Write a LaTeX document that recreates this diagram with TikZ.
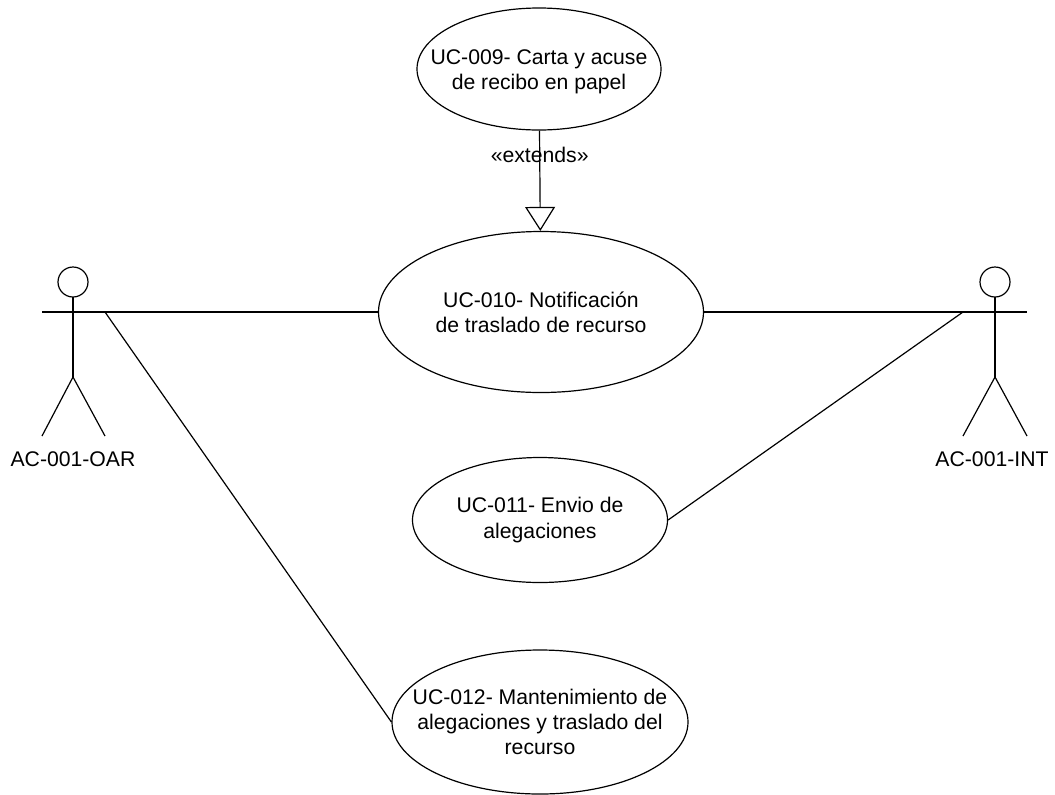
\documentclass[tikz,border=0pt]{standalone}
\usepackage{fontspec}
\setmainfont{Liberation Sans}
\usetikzlibrary{shapes.geometric,arrows.meta}
\tikzset{
	usecase/.style={draw,ellipse,inner sep=0pt},
	uctext/.style={align=center},
	actorlabel/.style={inner sep=0pt}
}
\begin{document}
\begin{tikzpicture}[x=0.5pt,y=-0.5pt,line join=round,line width=0.6pt,font=\fontsize{10.6}{12.7}\selectfont]
		\useasboundingbox (0,0) rectangle (1055,794);
		% casos de uso
		\node[usecase,minimum width=122pt,minimum height=61pt] (uc09) at (539,69) {};
		\node[uctext] (t09) at (539,72) {UC-009- Carta y acuse\\de recibo en papel};
		\node[usecase,minimum width=162.5pt,minimum height=80.5pt] (uc10) at (541,312) {};
		\node[uctext] (t10) at (541,312) {UC-010- Notificación\\de traslado de recurso};
		\node[usecase,minimum width=127.5pt,minimum height=62.5pt] (uc11) at (540,520) {};
		\node[uctext] (t11) at (540,520) {UC-011- Envio de\\alegaciones};
		\node[usecase,minimum width=148pt,minimum height=72pt] (uc12) at (540,722) {};
		\node[uctext] (t12) at (540,722) {UC-012- Mantenimiento de\\alegaciones y traslado del\\recurso};
		% actores
		\draw (73,282) circle[radius=7.5pt];
		\draw (73,297)--(73,377);
		\draw (42,436)--(73,377)--(105,436);
		\draw (42,312)--(105,312);
		\coordinate (oar) at (105,312);
		\node[actorlabel] (acoar) at (73,459) {AC-001-OAR};
		\draw (995,282) circle[radius=7.5pt];
		\draw (995,297)--(995,377);
		\draw (963,436)--(995,377)--(1027,436);
		\draw (963,312)--(1027,312);
		\coordinate (int) at (963,312);
		\node[actorlabel] (acint) at (992,459) {AC-001-INT};
		% relaciones
		\draw (oar)--(uc10);
		\draw (oar)--(uc12.west);
		\draw (uc10)--(int);
		\draw (uc11.east)--(int);
		\draw[-{Triangle[open,width=15pt,length=12pt]}] (uc09)--(uc10) node[pos=0.245]{«extends»};
\end{tikzpicture}
\end{document}
